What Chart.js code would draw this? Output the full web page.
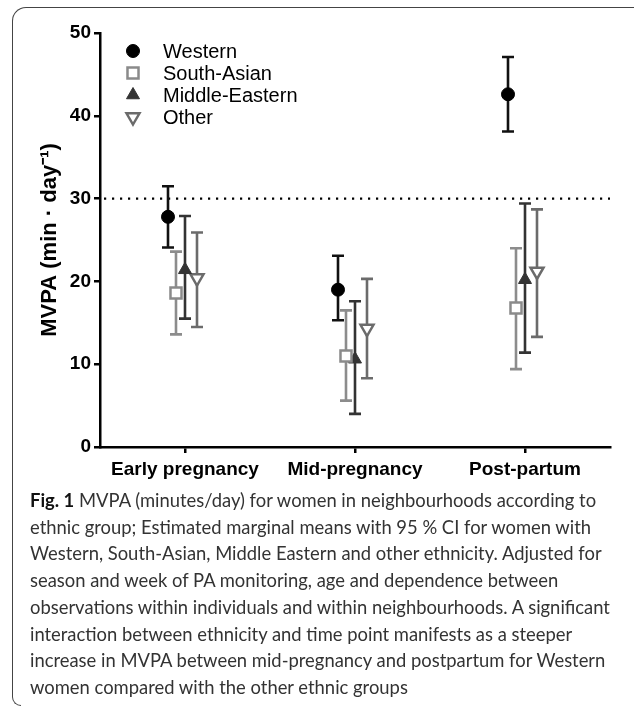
<!DOCTYPE html>
<html>
<head>
<meta charset="utf-8">
<script src="https://cdn.jsdelivr.net/npm/chart.js@4/dist/chart.umd.min.js"></script>
<style>
    body { margin: 0; background: #fff; width: 634px; height: 711px; position: relative; overflow: hidden; }
    #chart { position: absolute; left: 0; top: 0; }
    .frame { position: absolute; left: 12px; top: 7px; width: 640px; height: 688px; border-top: 1.5px solid #444; border-left: 1.5px solid #444; border-top-left-radius: 14px; }
    .hook { position: absolute; left: 12px; top: 690px; width: 8px; height: 15px; border-left: 1.5px solid #444; border-bottom: 1.5px solid #444; border-bottom-left-radius: 9px; }
    .caption { position: absolute; left: 30px; top: 487px; font-family: Lato, "Open Sans", sans-serif; font-size: 18.4px; line-height: 26.7px; color: #333; white-space: nowrap; }
    .caption b { color: #111; }
</style>
</head>
<body>
<div class="frame"></div>
<div class="hook"></div>
<canvas id="chart" width="634" height="490"></canvas>
<div class="caption">
    <b>Fig. 1</b> MVPA (minutes/day) for women in neighbourhoods according to<br>
    ethnic group; Estimated marginal means with 95 % CI for women with<br>
    Western, South-Asian, Middle Eastern and other ethnicity. Adjusted for<br>
    season and week of PA monitoring, age and dependence between<br>
    observations within individuals and within neighbourhoods. A significant<br>
    interaction between ethnicity and time point manifests as a steeper<br>
    increase in MVPA between mid-pregnancy and postpartum for Western<br>
    women compared with the other ethnic groups
</div>
<script>
const categories = ['Early pregnancy', 'Mid-pregnancy', 'Post-partum'];

const western = [27.8, 19.0, 42.6];
const westernLow = [24.1, 15.3, 38.1];
const westernHigh = [31.5, 23.1, 47.1];

const southAsian = [18.6, 11.0, 16.8];
const southAsianLow = [13.6, 5.6, 9.4];
const southAsianHigh = [23.6, 16.5, 24.0];

const middleEastern = [21.4, 10.6, 20.2];
const middleEasternLow = [15.5, 4.0, 11.4];
const middleEasternHigh = [27.9, 17.6, 29.4];

const other = [20.4, 14.3, 21.2];
const otherLow = [14.5, 8.3, 13.3];
const otherHigh = [25.9, 20.3, 28.7];

const guideline = 30;

const axisFont = { family: '"Liberation Sans", Arial, sans-serif', size: 19, weight: 'bold' };

function series(label, data, low, high, opts) {
    return Object.assign({
        label: label,
        data: data,
        low: low,
        high: high,
        showLine: false,
        pointBorderWidth: 2.5
    }, opts);
}

// shift each series sideways inside its category, like a dodge
const dodgePlugin = {
    id: 'dodge',
    afterDatasetsUpdate(chart) {
        chart.data.datasets.forEach((ds, i) => {
            chart.getDatasetMeta(i).data.forEach(pt => { pt.x += ds.dodge; });
        });
    }
};

const errorBarPlugin = {
    id: 'errorBars',
    beforeDatasetsDraw(chart) {
        const ctx = chart.ctx;
        const y = chart.scales.y;
        const area = chart.chartArea;

        // dotted reference line
        ctx.save();
        ctx.strokeStyle = '#000';
        ctx.lineWidth = 2.2;
        ctx.setLineDash([2.2, 5.8]);
        ctx.beginPath();
        ctx.moveTo(area.left + 4, y.getPixelForValue(guideline));
        ctx.lineTo(area.right, y.getPixelForValue(guideline));
        ctx.stroke();
        ctx.restore();

        chart.data.datasets.forEach((ds, i) => {
            const meta = chart.getDatasetMeta(i);
            ctx.save();
            ctx.strokeStyle = ds.barColor;
            ctx.lineWidth = 2.6;
            meta.data.forEach((pt, j) => {
                const top = y.getPixelForValue(ds.high[j]);
                const bottom = y.getPixelForValue(ds.low[j]);
                ctx.beginPath();
                ctx.moveTo(pt.x, top);
                ctx.lineTo(pt.x, bottom);
                ctx.moveTo(pt.x - 6, top);
                ctx.lineTo(pt.x + 6, top);
                ctx.moveTo(pt.x - 6, bottom);
                ctx.lineTo(pt.x + 6, bottom);
                ctx.stroke();
            });
            ctx.restore();
        });
    }
};

function drawMarker(ctx, ds, x, y) {
    const r = ds.pointRadius;
    ctx.save();
    ctx.fillStyle = ds.pointBackgroundColor;
    ctx.strokeStyle = ds.pointBorderColor;
    ctx.lineWidth = ds.pointBorderWidth;
    ctx.beginPath();
    if (ds.pointStyle === 'circle') {
        ctx.arc(x, y, r, 0, Math.PI * 2);
    } else if (ds.pointStyle === 'rect') {
        const s = r * Math.SQRT1_2;
        ctx.rect(x - s, y - s, 2 * s, 2 * s);
    } else {
        const dir = ds.pointRotation ? -1 : 1;
        ctx.moveTo(x, y - dir * r);
        ctx.lineTo(x + 0.866 * r, y + dir * r / 2);
        ctx.lineTo(x - 0.866 * r, y + dir * r / 2);
        ctx.closePath();
    }
    ctx.fill();
    ctx.stroke();
    ctx.restore();
}

const legendPlugin = {
    id: 'insideLegend',
    afterDraw(chart) {
        const ctx = chart.ctx;
        ctx.save();
        ctx.font = '20px "Liberation Sans", Arial, sans-serif';
        ctx.fillStyle = '#000';
        ctx.textBaseline = 'middle';
        chart.data.datasets.forEach((ds, i) => {
            const yy = 51 + i * 22;
            drawMarker(ctx, ds, 133, yy);
            ctx.fillText(ds.label, 163, yy + 1);
        });
        ctx.restore();
    }
};

new Chart(document.getElementById('chart'), {
    type: 'line',
    data: {
        labels: categories,
        datasets: [
            series('Western', western, westernLow, westernHigh, {
                dodge: -17, barColor: '#111',
                pointStyle: 'circle', pointRadius: 6.5,
                pointBackgroundColor: '#000', pointBorderColor: '#000', pointBorderWidth: 1
            }),
            series('South-Asian', southAsian, southAsianLow, southAsianHigh, {
                dodge: -9, barColor: '#8c8c8c',
                pointStyle: 'rect', pointRadius: 7.8,
                pointBackgroundColor: '#fff', pointBorderColor: '#8a8a8a'
            }),
            series('Middle-Eastern', middleEastern, middleEasternLow, middleEasternHigh, {
                dodge: 0, barColor: '#333',
                pointStyle: 'triangle', pointRadius: 7.5,
                pointBackgroundColor: '#333', pointBorderColor: '#333', pointBorderWidth: 1
            }),
            series('Other', other, otherLow, otherHigh, {
                dodge: 12, barColor: '#6b6b6b',
                pointStyle: 'triangle', pointRotation: 180, pointRadius: 7.5,
                pointBackgroundColor: '#fff', pointBorderColor: '#6b6b6b'
            })
        ]
    },
    options: {
        responsive: false,
        animation: false,
        layout: { padding: { left: 0, right: 24, top: 33, bottom: 0 } },
        plugins: {
            legend: { display: false },
            tooltip: { enabled: false }
        },
        scales: {
            x: {
                offset: true,
                grid: { offset: false, drawOnChartArea: false, tickLength: 6, color: '#000', lineWidth: 2.5 },
                border: { color: '#000', width: 2.5 },
                ticks: { color: '#000', font: axisFont, padding: 5 },
                afterFit(scale) { scale.height = 43; }
            },
            y: {
                min: 0,
                max: 50,
                grid: { drawOnChartArea: false, tickLength: 6, color: '#000', lineWidth: 2.5 },
                border: { color: '#000', width: 2.5 },
                ticks: { stepSize: 10, color: '#000', font: axisFont, padding: 3 },
                title: {
                    display: true,
                    text: 'MVPA (min · day⁻¹)',
                    color: '#000',
                    font: { family: axisFont.family, size: 22, weight: 'bold' },
                    padding: { top: 37, bottom: 0 }
                },
                afterFit(scale) { scale.width = 100; }
            }
        }
    },
    plugins: [dodgePlugin, errorBarPlugin, legendPlugin]
});
</script>
</body>
</html>
